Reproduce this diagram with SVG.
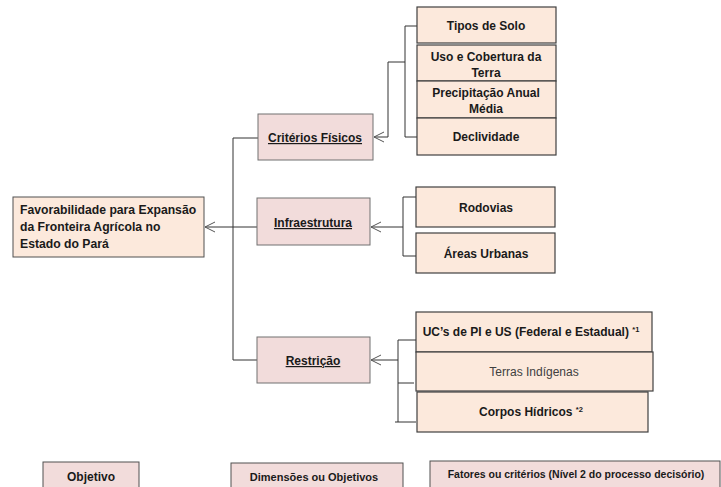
<svg xmlns="http://www.w3.org/2000/svg" width="721" height="487" viewBox="0 0 721 487">
<defs>
<style>
.l3{fill:#fce9dc;stroke:#404040;stroke-width:1.2}
.l2{fill:#f2dcdb;stroke:#707070;stroke-width:1}
.l1{fill:#fce9dc;stroke:#505050;stroke-width:1}
.lg{fill:#f2dcdb;stroke:#505050;stroke-width:1}
text{font-family:"Liberation Sans",Arial,sans-serif;font-size:12px;font-weight:bold;fill:#1a1a1a;text-anchor:middle}
.u{text-decoration:underline}
.reg{font-weight:normal;fill:#404040}
.lft{text-anchor:start}
.big{font-size:12.2px}
.sm{font-size:11px}
.xs{font-size:10.5px}
.sup{font-size:7.5px}
.conn line,.conn polyline{stroke:#333;stroke-width:1;fill:none}
</style>
<marker id="arr" viewBox="0 0 12 12" refX="11" refY="6" markerWidth="12" markerHeight="12" markerUnits="userSpaceOnUse" orient="auto">
<polyline points="1,1 11,6 1,11" fill="none" stroke="#555" stroke-width="1"/>
</marker>
</defs>
<rect width="721" height="487" fill="#fff"/>

<g class="conn" id="connectors">
<line x1="405" y1="26" x2="405" y2="137"/>
<line x1="405" y1="26" x2="420" y2="26"/>
<line x1="405" y1="137" x2="420" y2="137"/>
<polyline points="405,62 388,62 388,137"/>
<line x1="388" y1="137" x2="374" y2="137" marker-end="url(#arr)"/>
<polyline points="258,138 233,138 233,360 258,360"/>
<line x1="258" y1="227" x2="205" y2="227" marker-end="url(#arr)"/>
<line x1="403" y1="197" x2="403" y2="256"/>
<line x1="403" y1="197" x2="417" y2="197"/>
<line x1="403" y1="256" x2="418" y2="256"/>
<line x1="403" y1="227" x2="371" y2="227" marker-end="url(#arr)"/>
<line x1="398" y1="340" x2="398" y2="422"/>
<line x1="398" y1="340" x2="416" y2="340"/>
<line x1="398" y1="383" x2="414" y2="383"/>
<line x1="395" y1="422" x2="416" y2="422"/>
<line x1="398" y1="360" x2="371" y2="360" marker-end="url(#arr)"/>
</g>

<g id="objetivo"><rect class="l1" x="13" y="197" width="191" height="60"/>
<text class="lft big" x="20" y="214">Favorabilidade para Expansão</text>
<text class="lft big" x="20" y="231">da Fronteira Agrícola no</text>
<text class="lft big" x="20" y="248">Estado do Pará</text></g>

<g id="criterios-fisicos"><rect class="l2" x="258" y="114" width="115" height="46"/><text class="u" x="315" y="142">Critérios Físicos</text></g>
<g id="infraestrutura"><rect class="l2" x="257" y="198" width="113" height="47"/><text class="u" x="313" y="227">Infraestrutura</text></g>
<g id="restricao"><rect class="l2" x="257" y="337" width="113" height="46"/><text class="u" x="313" y="365">Restrição</text></g>

<g id="tipos-solo"><rect class="l3" x="417" y="7" width="139" height="36"/><text x="486" y="30">Tipos de Solo</text></g>
<g id="uso-cobertura"><rect class="l3" x="417" y="45" width="139" height="36"/><text x="486" y="61">Uso e Cobertura da</text><text x="486" y="77">Terra</text></g>
<g id="precipitacao"><rect class="l3" x="417" y="81" width="139" height="37"/><text x="486" y="97">Precipitação Anual</text><text x="486" y="113">Média</text></g>
<g id="declividade"><rect class="l3" x="417" y="118" width="139" height="37"/><text x="486" y="141">Declividade</text></g>

<g id="rodovias"><rect class="l3" x="416" y="187" width="139" height="40"/><text x="486" y="212">Rodovias</text></g>
<g id="areas-urbanas"><rect class="l3" x="416" y="233" width="139" height="40"/><text x="486" y="258">Áreas Urbanas</text></g>

<g id="ucs"><rect class="l3" x="416" y="312" width="236" height="40"/><text x="531" y="336">UC’s  de PI e US (Federal e Estadual) <tspan class="sup" dy="-4">*1</tspan></text></g>
<g id="terras-indigenas"><rect class="l3" x="416" y="352" width="237" height="39"/><text class="reg" x="534" y="376">Terras Indígenas</text></g>
<g id="corpos-hidricos"><rect class="l3" x="417" y="392" width="231" height="40"/><text x="531" y="416">Corpos Hídricos <tspan class="sup" dy="-4">*2</tspan></text></g>

<g id="legenda-objetivo"><rect class="lg" x="43" y="462" width="96" height="30"/><text x="91" y="481">Objetivo</text></g>
<g id="legenda-dimensoes"><rect class="lg" x="231" y="463" width="172" height="30"/><text class="sm" x="314" y="481">Dimensões ou Objetivos</text></g>
<g id="legenda-fatores"><rect class="lg" x="430" y="461" width="290" height="30"/><text class="xs" x="576" y="478">Fatores ou critérios (Nível 2 do processo decisório)</text></g>
</svg>
